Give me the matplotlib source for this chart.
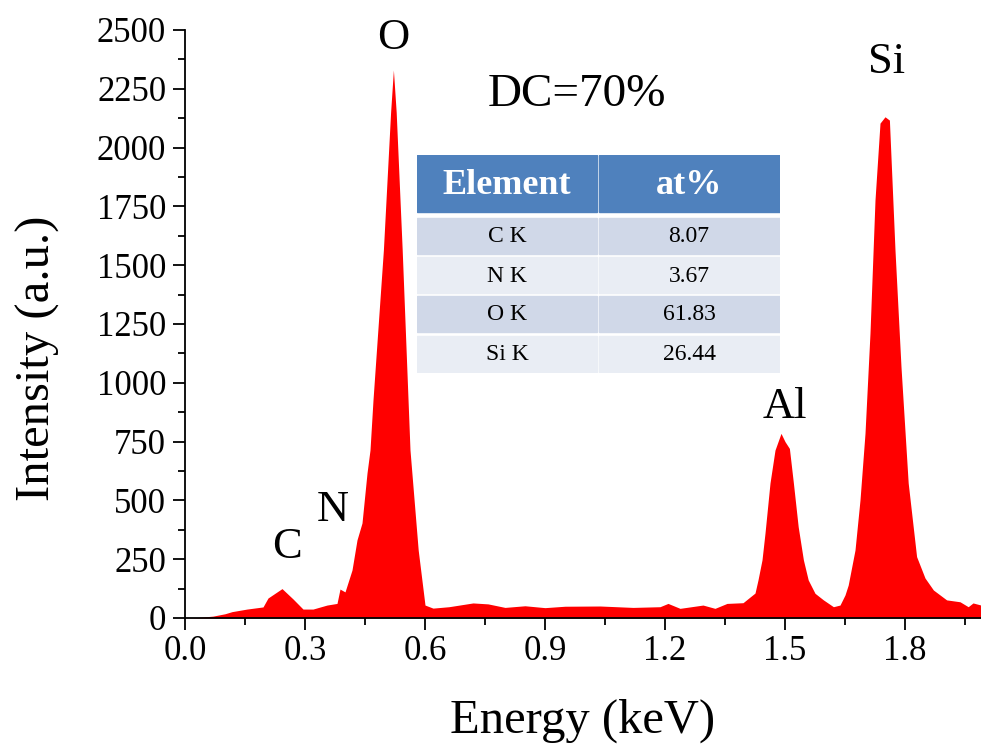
import matplotlib
matplotlib.use("Agg")
import matplotlib.pyplot as plt
from matplotlib.patches import Rectangle
from matplotlib.ticker import MultipleLocator

plt.rcParams["font.family"] = ["Liberation Serif", "DejaVu Serif"]

# spectrum
energy = [0.0, 0.03, 0.07, 0.10, 0.1175, 0.155, 0.195, 0.2075, 0.2425, 0.27,
          0.295, 0.32, 0.355, 0.38, 0.3875, 0.40, 0.4175, 0.43, 0.4425, 0.455,
          0.4625, 0.47, 0.496, 0.514, 0.521, 0.528, 0.543, 0.5625, 0.583, 0.60,
          0.62, 0.66, 0.72, 0.7575, 0.80, 0.85, 0.90, 0.95, 1.0375, 1.12,
          1.1875, 1.2075, 1.2375, 1.295, 1.325, 1.355, 1.395, 1.4125, 1.425, 1.4325,
          1.4425, 1.45, 1.4625, 1.475, 1.49, 1.50, 1.511, 1.521, 1.533, 1.546,
          1.558, 1.575, 1.596, 1.621, 1.6375, 1.65, 1.658, 1.675, 1.6875, 1.70,
          1.7125, 1.725, 1.7375, 1.75, 1.761, 1.775, 1.79, 1.808, 1.829, 1.85,
          1.871, 1.904, 1.9375, 1.958, 1.97, 1.99]
counts = [0, 2, 8, 18, 27, 38, 47, 85, 125, 81,
          38, 38, 55, 62, 123, 111, 204, 332, 404, 616,
          714, 927, 1565, 2150, 2330, 2150, 1565, 714, 289, 55,
          42, 48, 64, 60, 45, 52, 44, 50, 51, 45,
          48, 62, 41, 55, 41, 62, 65, 89, 106, 162,
          247, 361, 574, 714, 785, 750, 721, 574, 388, 247,
          162, 105, 77, 48, 55, 98, 140, 289, 502, 785,
          1212, 1777, 2104, 2131, 2117, 1564, 1068, 574, 261, 170,
          119, 77, 69, 48, 64, 55]

peak_names = ["C", "N", "O", "Al", "Si"]
peak_x = [0.255, 0.37, 0.52, 1.50, 1.755]
peak_y = [300, 460, 2466, 898, 2364]

table_header = ["Element", "at%"]
table_elements = ["C K", "N K", "O K", "Si K"]
table_values = ["8.07", "3.67", "61.83", "26.44"]

W, H = 981, 747
fig = plt.figure(figsize=(W / 100, H / 100), dpi=100)
ax = fig.add_axes([185 / W, (H - 618) / H, (W - 185) / W, 588 / H])

ax.fill_between(energy, counts, 0, color="#ff0000", lw=0)
ax.set_xlim(0, 1.99)
ax.set_ylim(0, 2500)

ax.spines["top"].set_visible(False)
ax.spines["right"].set_visible(False)
ax.spines["left"].set_linewidth(1.3)
ax.spines["bottom"].set_linewidth(1.3)
ax.xaxis.set_major_locator(MultipleLocator(0.3))
ax.xaxis.set_minor_locator(MultipleLocator(0.15))
ax.yaxis.set_major_locator(MultipleLocator(250))
ax.yaxis.set_minor_locator(MultipleLocator(125))
ax.xaxis.set_major_formatter(lambda v, p: f"{v:.1f}")
ax.tick_params(which="major", direction="out", length=8.5, width=1.3, labelsize=25)
ax.tick_params(which="minor", direction="out", length=5, width=1.3)
ax.tick_params(axis="x", pad=4)
ax.tick_params(axis="y", pad=5)

ax.set_xlabel("Energy (keV)", fontsize=35, labelpad=22)
ax.set_ylabel("Intensity (a.u.)", fontsize=35)
ax.yaxis.set_label_coords(-0.157, 0.442)

for name, x, y in zip(peak_names, peak_x, peak_y):
    ax.text(x, y, name, fontsize=32, ha="center", va="center")
ax.text(0.98, 2224, "DC=70%", fontsize=34, ha="center", va="center")

# inset table drawn with patches
tab = fig.add_axes([417 / W, (H - 373) / H, (780 - 417) / W, (373 - 155) / H])
tab.set_xlim(0, 363)
tab.set_ylim(218, 0)
tab.axis("off")
col_x = [(0, 180), (182, 363)]
tab.add_patch(Rectangle((0, 0), 180, 57, color="#4f81bd"))
tab.add_patch(Rectangle((182, 0), 181, 57, color="#4f81bd"))
for (x0, x1), label in zip(col_x, table_header):
    tab.text((x0 + x1) / 2, 31, label, color="white", fontsize=26,
             fontweight="bold", ha="center", va="center")
row_tops = [63, 102, 141, 181]
row_h = 36
row_colors = ["#d0d8e8", "#e9edf4", "#d0d8e8", "#e9edf4"]
for top, color, el, val in zip(row_tops, row_colors, table_elements, table_values):
    tab.add_patch(Rectangle((0, top), 180, row_h, color=color))
    tab.add_patch(Rectangle((182, top), 181, row_h, color=color))
    tab.text(90, top + row_h / 2 + 1, el, fontsize=17, ha="center", va="center")
    tab.text(272, top + row_h / 2 + 1, val, fontsize=17, ha="center", va="center")

fig.savefig("out.png", dpi=100)
